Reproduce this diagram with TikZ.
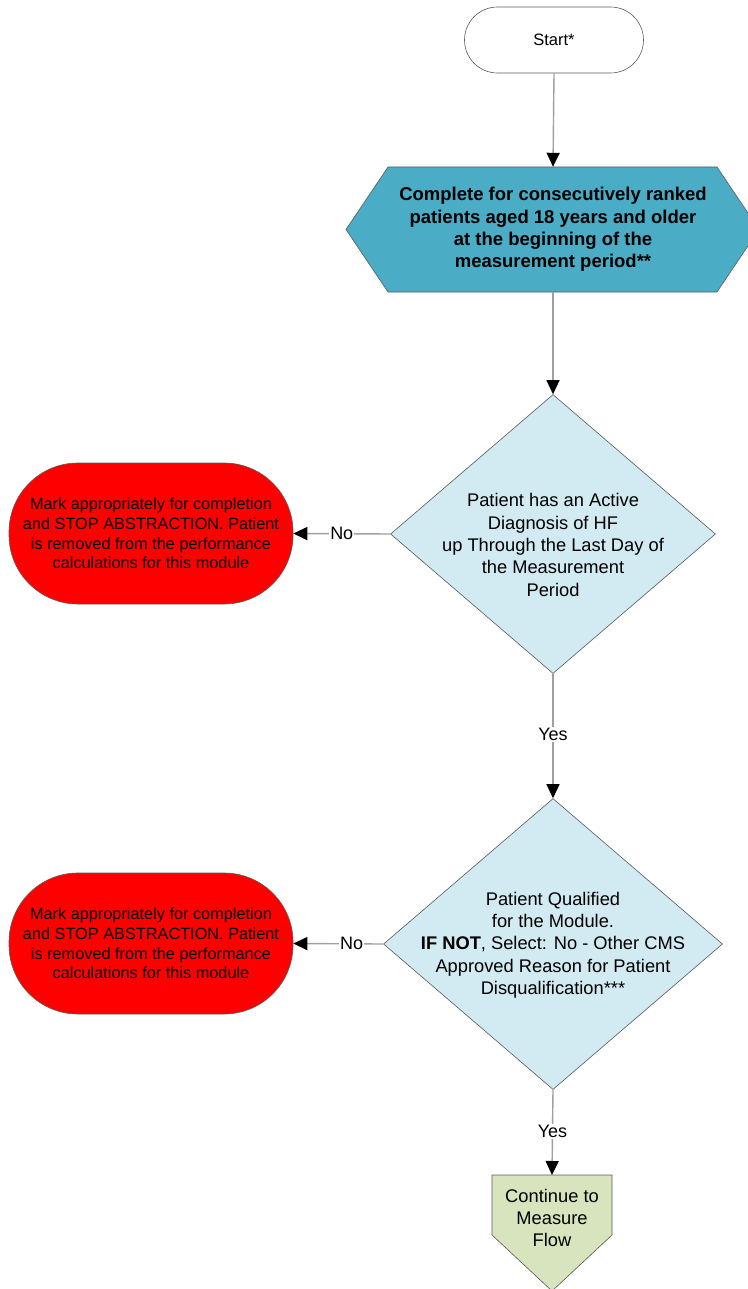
\documentclass[tikz,border=0pt]{standalone}
\usepackage{fontspec}
\setmainfont{Liberation Sans}
\usetikzlibrary{shapes.geometric,arrows.meta}
\definecolor{hexfill}{RGB}{75,172,198}
\definecolor{decfill}{RGB}{210,234,241}
\definecolor{endfill}{RGB}{255,0,0}
\definecolor{penfill}{RGB}{215,228,189}
\definecolor{linegray}{RGB}{160,160,160}
\definecolor{edgegray}{RGB}{90,90,90}
\tikzset{
  conn/.style={draw=linegray, line width=1.4pt, -{Triangle[length=14pt,width=13pt,fill=black,color=black]}},
  startbox/.style={draw=edgegray, line width=0.6pt, fill=white, rounded corners=33pt, minimum width=179pt, minimum height=66pt, inner sep=0pt, font=\fontsize{16.5}{20}\selectfont},
  stopbox/.style={draw=edgegray, line width=0.6pt, fill=endfill, rounded corners=69pt, minimum width=284pt, minimum height=141pt, inner sep=0pt, align=center, font=\fontsize{16.3}{19.6}\selectfont},
  decision/.style={diamond, draw=edgegray, line width=0.6pt, fill=decfill, inner sep=0pt, aspect=1},
  dectext/.style={align=center, inner sep=0pt, font=\fontsize{18.3}{22.3}\selectfont},
  lbl/.style={fill=white, inner sep=1pt, font=\fontsize{18}{20}\selectfont},
  ghost/.style={inner sep=0pt, draw=none}
}
\begin{document}
\begin{tikzpicture}[x=1pt,y=-1pt]
\useasboundingbox (0,0) rectangle (747,1289);
% start
\node[startbox] (start) at (554,40) {Start*};
% hexagon
\fill[hexfill, draw=edgegray, line width=0.6pt] (346,229.5) -- (388,167) -- (717,167) -- (759,229.5) -- (717,292) -- (388,292) -- cycle;
\node[ghost, minimum width=329pt, minimum height=125pt] (hex) at (553,229.5) {};
\node[align=center, inner sep=0pt, font=\bfseries\fontsize{18.5}{22.3}\selectfont] (hext) at (553,229.5) {Complete for consecutively ranked\\patients aged 18 years and older\\at the beginning of the\\measurement period**};
% decision 1
\node[decision, minimum width=325pt, minimum height=279pt] (d1) at (553,534) {};
\node[dectext] (d1t) at (553,545) {Patient has an Active\\Diagnosis of HF\\up Through the Last Day of\\the Measurement\\Period};
% stop 1
\node[stopbox] (s1) at (151,533.5) {Mark appropriately for completion\\and STOP ABSTRACTION. Patient\\is removed from the performance\\calculations for this module};
% decision 2
\node[decision, minimum width=339pt, minimum height=291pt] (d2) at (553,944) {};
\node[dectext] (d2t) at (553,945) {Patient Qualified\\for the Module.\\\textbf{IF NOT}, Select: No - Other CMS\\Approved Reason for Patient\\Disqualification***};
% stop 2
\node[stopbox] (s2) at (151,943.5) {Mark appropriately for completion\\and STOP ABSTRACTION. Patient\\is removed from the performance\\calculations for this module};
% pentagon
\fill[penfill, draw=edgegray, line width=0.6pt] (492,1175) -- (612,1175) -- (612,1235) -- (552,1291) -- (492,1235) -- cycle;
\node[ghost, minimum width=120pt, minimum height=60pt, anchor=north] (cont) at (552,1175) {};
\node[align=center, inner sep=0pt, font=\fontsize{18.3}{21.7}\selectfont] (contt) at (552,1218) {Continue to\\Measure\\Flow};
% connectors
\draw[conn] (start.south) -- (hex.north);
\draw[conn] (hex.south) -- (d1.north);
\draw[conn] (d1.west) -- node[lbl] {No} (s1.east);
\draw[conn] (d1.south) -- node[lbl, pos=0.49] {Yes} (d2.north);
\draw[conn] (d2.west) -- node[lbl, pos=0.35] {No} (s2.east);
\draw[conn] (d2.south) -- node[lbl, pos=0.49] {Yes} (cont.north);
\end{tikzpicture}
\end{document}
